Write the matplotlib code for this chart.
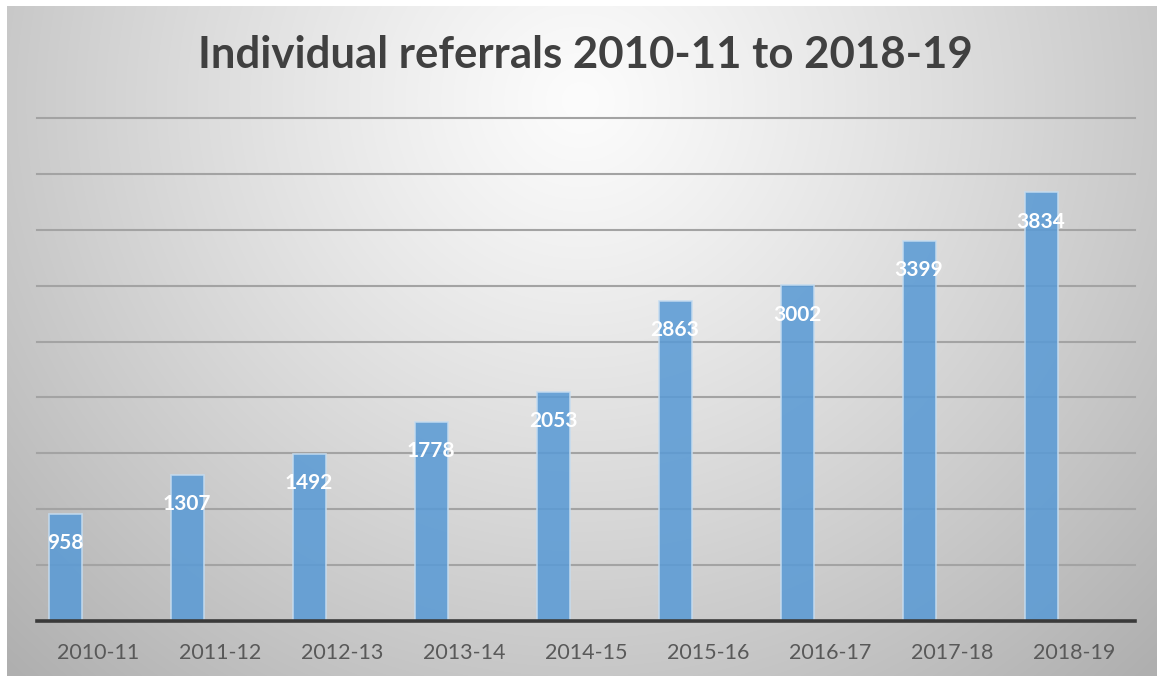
import numpy as np
import matplotlib
matplotlib.use("Agg")
import matplotlib.pyplot as plt

categories = ["2010-11", "2011-12", "2012-13", "2013-14", "2014-15",
              "2015-16", "2016-17", "2017-18", "2018-19"]
referrals = [958, 1307, 1492, 1778, 2053, 2863, 3002, 3399, 3834]
title = "Individual referrals 2010-11 to 2018-19"

W, H = 1157, 676
fig = plt.figure(figsize=(W / 100, H / 100), dpi=100)
fig.patch.set_facecolor("white")

# background radial gradient
bg = fig.add_axes([0, 0, 1, 1], zorder=-10)
yy, xx = np.mgrid[0:H, 0:W]
d = np.sqrt(((xx - 580) / 680.0) ** 2 + ((yy - 100) / 660.0) ** 2)
val = 252 - 62 * np.clip(d, 0, 1.2) ** 1.15
img = np.clip(val, 0, 255) / 255.0
rgb = np.dstack([img, img, img])
mask = (xx < 7) | (yy < 6)
rgb[mask] = 1.0
bg.imshow(rgb, extent=[0, W, H, 0], aspect="auto", interpolation="bilinear")
bg.set_xlim(0, W)
bg.set_ylim(H, 0)
bg.axis("off")

left = 37 / W
right = 1135 / W
bottom = 1 - 621 / H
top = 1 - 118 / H
ax = fig.add_axes([left, bottom, right - left, top - bottom])
ax.set_facecolor("none")

x = np.arange(len(categories))
bw = 0.27
bars = ax.bar(x - bw, referrals, width=bw, color="#5b9bd5", alpha=0.88,
              edgecolor="#c5dcf0", linewidth=1.2, zorder=3)

for xi, v in zip(x, referrals):
    ax.annotate(str(v), (xi - bw, v), xytext=(0, -21), textcoords="offset points",
                ha="center", va="center", color="white", fontsize=15,
                fontweight="bold", family="Lato", zorder=5)

ax.set_xlim(-0.5, len(categories) - 0.5)
ax.set_ylim(0, 4500)
ax.set_yticks(np.arange(500, 4501, 500))
ax.yaxis.grid(True, color="#a3a3a3", linewidth=1.5, zorder=1)
for gl in ax.get_ygridlines():
    gl.set_clip_on(False)
ax.set_yticklabels([])
ax.tick_params(axis="y", length=0)
ax.set_xticks(x)
ax.set_xticklabels(categories, fontsize=15.5, color="#595959", family="Lato")
ax.tick_params(axis="x", length=0, pad=16)
for s in ["top", "right", "left"]:
    ax.spines[s].set_visible(False)
ax.spines["bottom"].set_color("#3a3a3a")
ax.spines["bottom"].set_linewidth(2.6)
ax.spines["bottom"].set_zorder(4)

fig.text(585 / W, 1 - 55 / H, title, ha="center", va="center", fontsize=31.5,
         fontweight="bold", color="#404040", family="Lato")

fig.savefig("out.png", dpi=100)
